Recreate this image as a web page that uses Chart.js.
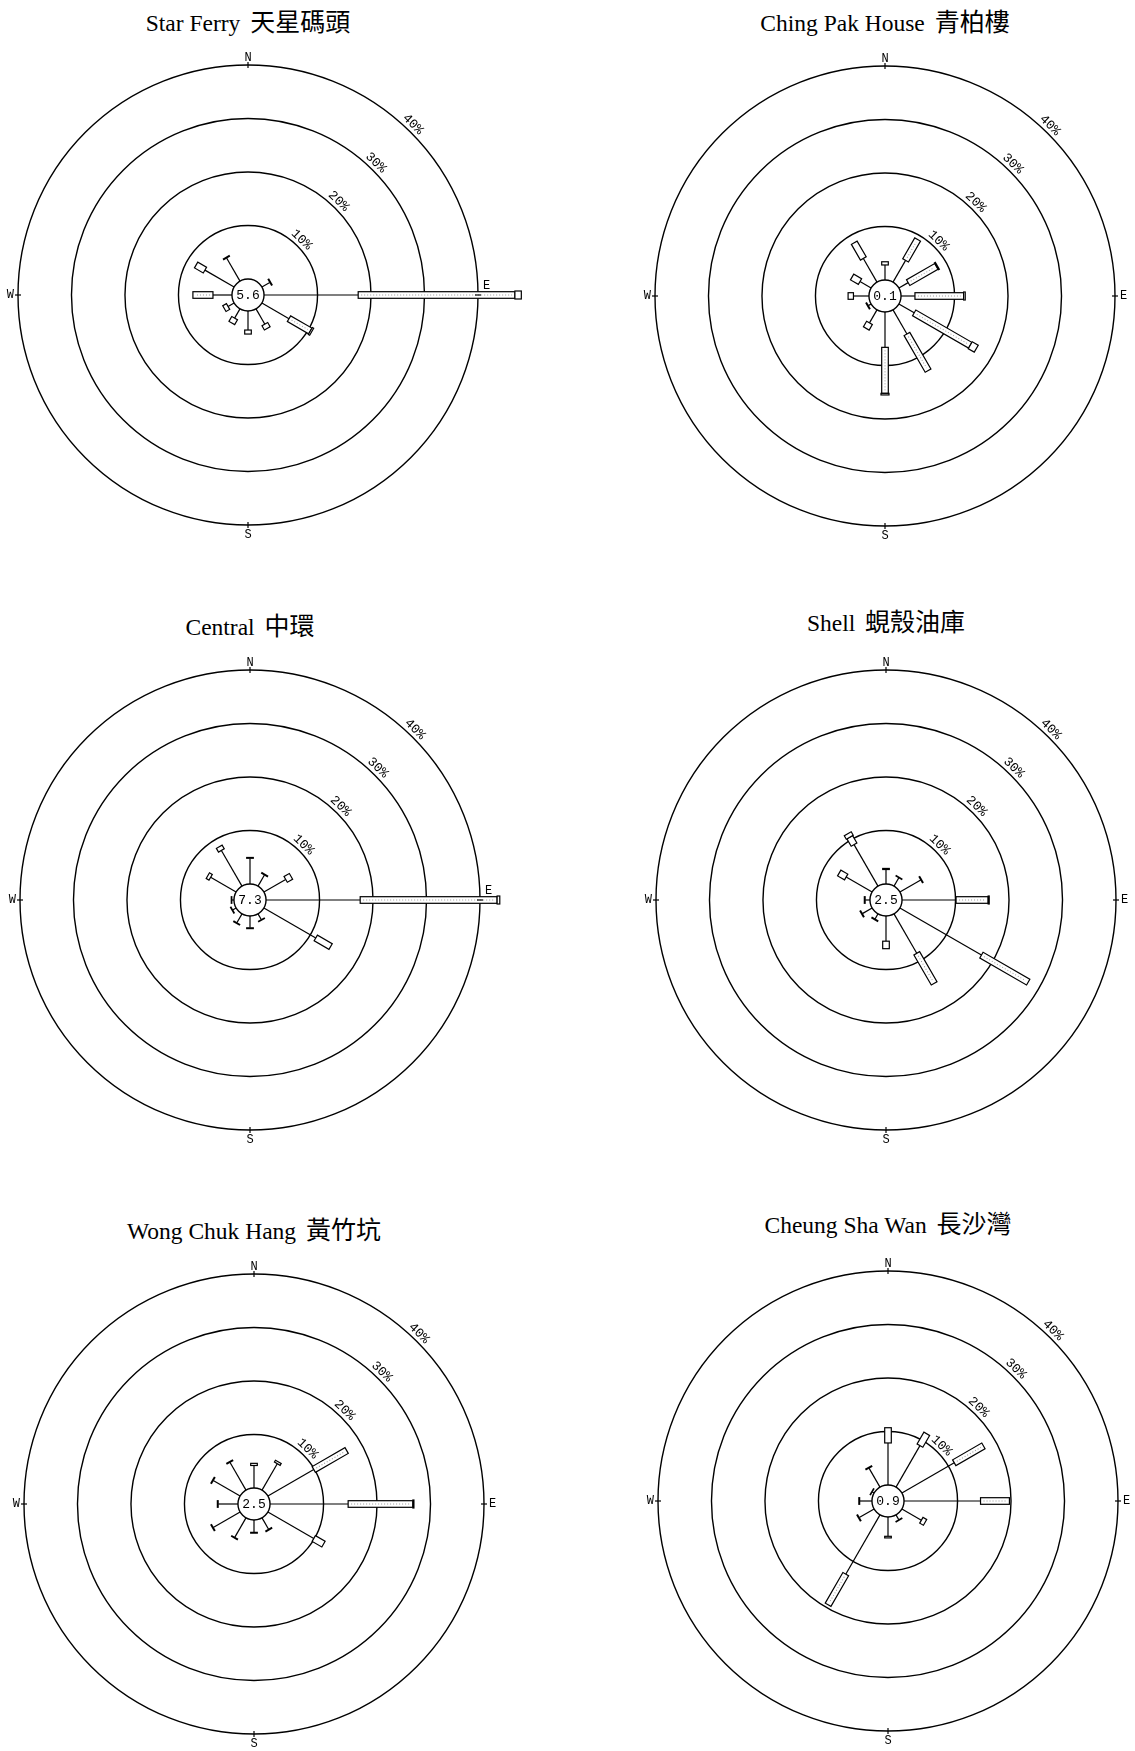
<!DOCTYPE html>
<html>
<head>
<meta charset="utf-8">
<title>Wind roses</title>
<script src="https://cdn.jsdelivr.net/npm/chart.js@4.4.1/dist/chart.umd.min.js"></script>
<style>
    html, body { margin: 0; padding: 0; background: #fff; }
    body { position: relative; width: 1135px; height: 1751px; overflow: hidden; }
    .title {
        position: absolute;
        width: 500px;
        text-align: center;
        font-family: "Liberation Serif", "Times New Roman", serif;
        font-size: 23.5px;
        line-height: 30px;
        color: #000;
        white-space: nowrap;
    }
    .title .zh {
        font-family: "Noto Sans CJK TC", "Noto Sans CJK SC", sans-serif;
        font-size: 25px;
        margin-left: 4px;
    }
    canvas { position: absolute; }
</style>
</head>
<body>
<script>
// ==============================
// Data
// ==============================

// 12 sectors of 30 degrees, clockwise from north
const directions = ["N", "030", "060", "E", "120", "150", "S", "210", "240", "W", "300", "330"];

// frequency rings (%), 0 is the calm circle
const gridValues = [0, 10, 20, 30, 40];

const titlesEn = ["Star Ferry", "Ching Pak House", "Central", "Shell", "Wong Chuk Hang", "Cheung Sha Wan"];
const titlesZh = ["天星碼頭", "青柏樓", "中環", "蜆殼油庫", "黃竹坑", "長沙灣"];

// calm (%)
const calmValues = ["5.6", "0.1", "7.3", "2.5", "2.5", "0.9"];

// % of time per direction, by wind speed class (low = line, mid = thin bar, high = wide bar)
const starFerryLow  = [0, 0, 1.7, 17.6, 5.85, 3.3, 3.55, 2.0, 1.3, 3.55, 6.3, 5.0];
const starFerryMid  = [0, 0, 0.15, 29.3, 4.6, 0.9, 0.75, 1.05, 0.8, 3.75, 1.9, 0.15];
const starFerryHigh = [0, 0, 0, 1.2, 0.3, 0, 0, 0, 0, 0, 0, 0];

const chingPakLow  = [2.8, 4.7, 2.0, 2.6, 3.3, 5.2, 6.6, 2.8, 0.6, 2.9, 2.4, 5.1];
const chingPakMid  = [0.6, 4.5, 6.1, 9.1, 12.1, 7.9, 8.6, 1.2, 0.15, 1.0, 1.7, 3.4];
const chingPakHigh = [0, 0, 0.2, 0.3, 1.3, 0, 0.3, 0, 0, 0, 0, 0];

const centralLow  = [4.8, 2.4, 4.7, 17.6, 11.2, 1.25, 2.2, 1.9, 0.75, 0.4, 5.5, 7.7];
const centralMid  = [0.15, 0.15, 1.15, 25.6, 3.2, 0.1, 0.15, 0.15, 0.1, 0.1, 0.6, 0.8];
const centralHigh = [0, 0, 0, 0.5, 0, 0, 0, 0, 0, 0, 0, 0];

const shellLow  = [2.7, 1.8, 4.5, 10.1, 17.6, 8.5, 4.7, 1.1, 2.1, 0.9, 5.6, 8.95];
const shellMid  = [0.2, 0.1, 0.15, 6.0, 10.1, 6.5, 1.4, 0.15, 0.15, 0.15, 1.5, 1.6];
const shellHigh = [0, 0, 0, 0.2, 0, 0, 0, 0, 0, 0, 0, 0.75];

const wongChukHangLow  = [4.2, 5.7, 9.9, 14.6, 9.9, 2.45, 2.3, 4.2, 5.8, 3.7, 5.8, 6.0];
const wongChukHangMid  = [0.4, 0.4, 7.1, 12.1, 2.1, 0.15, 0.15, 0.15, 0.15, 0.15, 0.15, 0.15];
const wongChukHangHigh = [0, 0, 0, 0.2, 0, 0, 0, 0, 0, 0, 0, 0];

const cheungShaWanLow  = [7.85, 8.95, 11.3, 14.3, 4.2, 1.05, 3.6, 12.8, 3.2, 2.3, 0.4, 4.1];
const cheungShaWanMid  = [2.85, 2.55, 6.3, 5.4, 0.8, 0.1, 0.3, 6.6, 0.15, 0.15, 0.1, 0.15];
const cheungShaWanHigh = [0, 0, 0, 0, 0, 0, 0, 0, 0, 0, 0, 0];

const stationSeries = [
    [starFerryLow, starFerryMid, starFerryHigh],
    [chingPakLow, chingPakMid, chingPakHigh],
    [centralLow, centralMid, centralHigh],
    [shellLow, shellMid, shellHigh],
    [wongChukHangLow, wongChukHangMid, wongChukHangHigh],
    [cheungShaWanLow, cheungShaWanMid, cheungShaWanHigh]
];

// ==============================
// Layout
// ==============================

const roseCenters = [[248, 295], [885, 296], [250, 900], [886, 900], [254, 1504], [888, 1501]];
const titleTops = [5, 5, 609, 605, 1213, 1207];
const CANVAS_SIZE = 560;
const PAD = 50;
const MONO = "Liberation Mono, DejaVu Sans Mono, monospace";

// ==============================
// Wind rose plugin
// ==============================

const windRosePlugin = {
    id: "windRose",
    afterDatasetsDraw(chart) {

        const scale = chart.scales.r;
        const ctx = chart.ctx;
        const sets = chart.data.datasets.map(d => d.data);
        const xc = scale.xCenter;
        const yc = scale.yCenter;
        const R = scale.drawingArea;

        ctx.save();
        ctx.strokeStyle = "#000";
        ctx.fillStyle = "#000";

        // ---------- spokes ----------
        for (let i = 0; i < directions.length; i++) {

            const a = sets[0][i], b = sets[1][i], c = sets[2][i];
            if (a + b + c <= 0) continue;

            const d0 = scale.getDistanceFromCenterForValue(0);
            const d1 = scale.getDistanceFromCenterForValue(a);
            const d2 = scale.getDistanceFromCenterForValue(a + b);
            const d3 = scale.getDistanceFromCenterForValue(a + b + c);

            ctx.save();
            ctx.translate(xc, yc);
            ctx.rotate(scale.getIndexAngle(i) - Math.PI / 2);
            ctx.lineWidth = 1.2;

            if (a > 0) {
                ctx.beginPath();
                ctx.moveTo(d0, 0);
                ctx.lineTo(d1, 0);
                ctx.stroke();
            }

            if (b > 0) {
                ctx.fillStyle = "#fff";
                ctx.fillRect(d1, -3.3, d2 - d1, 6.6);
                ctx.strokeRect(d1, -3.3, d2 - d1, 6.6);
                if (d2 - d1 > 20) {
                    ctx.save();
                    ctx.strokeStyle = "#999";
                    ctx.lineWidth = 1;
                    ctx.setLineDash([1, 2]);
                    ctx.beginPath();
                    ctx.moveTo(d1 + 3, 0);
                    ctx.lineTo(d2 - 3, 0);
                    ctx.stroke();
                    ctx.restore();
                }
            }

            if (c > 0) {
                ctx.fillStyle = "#fff";
                ctx.fillRect(d2, -4, d3 - d2, 8);
                ctx.strokeRect(d2, -4, d3 - d2, 8);
            }

            ctx.restore();
        }

        // ---------- calm value ----------
        ctx.font = "13px " + MONO;
        ctx.textAlign = "center";
        ctx.textBaseline = "middle";
        ctx.fillText(chart.options.plugins.windRose.calm, xc, yc + 1);

        // ---------- ring labels ----------
        ctx.font = "13px " + MONO;
        ctx.textBaseline = "alphabetic";
        gridValues.forEach(v => {
            if (v <= 0) return;
            const r = scale.getDistanceFromCenterForValue(v);
            ctx.save();
            ctx.translate(xc, yc);
            ctx.rotate(44 * Math.PI / 180);
            ctx.fillText(v + "%", 0, -(r + 4));
            ctx.restore();
        });

        // ---------- compass ticks and letters ----------
        ctx.font = "12px " + MONO;
        ctx.lineWidth = 1.2;
        [0, 3, 6, 9].forEach(i => {
            const inner = scale.getPointPosition(i, R - 3);
            const outer = scale.getPointPosition(i, R + 3);
            ctx.beginPath();
            ctx.moveTo(inner.x, inner.y);
            ctx.lineTo(outer.x, outer.y);
            ctx.stroke();

            const total = sets[0][i] + sets[1][i] + sets[2][i];
            const label = directions[i];
            if (i === 0) {
                const p = scale.getPointPosition(i, R + 1);
                ctx.textAlign = "center";
                ctx.textBaseline = "bottom";
                ctx.fillText(label, p.x, p.y);
            } else if (i === 3) {
                const p = scale.getPointPosition(i, R + 5);
                ctx.textAlign = "left";
                if (total > 38) {
                    ctx.textBaseline = "bottom";
                    ctx.fillText(label, p.x, p.y - 3);
                } else {
                    ctx.textBaseline = "middle";
                    ctx.fillText(label, p.x, p.y);
                }
            } else if (i === 6) {
                const p = scale.getPointPosition(i, R + 4);
                ctx.textAlign = "center";
                ctx.textBaseline = "top";
                ctx.fillText(label, p.x, p.y);
            } else {
                const p = scale.getPointPosition(i, R + 4);
                ctx.textAlign = "right";
                ctx.textBaseline = "middle";
                ctx.fillText(label, p.x, p.y);
            }
        });

        ctx.restore();
    }
};

// ==============================
// Build charts
// ==============================

function buildRose(k) {

    const [cx, cy] = roseCenters[k];

    const title = document.createElement("div");
    title.className = "title";
    title.style.left = (cx - 250) + "px";
    title.style.top = titleTops[k] + "px";
    title.innerHTML = titlesEn[k] + " <span class=\"zh\">" + titlesZh[k] + "</span>";
    document.body.appendChild(title);

    const canvas = document.createElement("canvas");
    canvas.width = CANVAS_SIZE;
    canvas.height = CANVAS_SIZE;
    canvas.style.left = (cx - CANVAS_SIZE / 2) + "px";
    canvas.style.top = (cy - CANVAS_SIZE / 2) + "px";
    document.body.appendChild(canvas);

    const series = stationSeries[k];
    const hidden = {
        borderWidth: 0,
        pointRadius: 0,
        pointHoverRadius: 0,
        showLine: false,
        fill: false
    };

    new Chart(canvas, {
        type: "radar",
        data: {
            labels: directions,
            datasets: [
                Object.assign({ label: "low", data: series[0] }, hidden),
                Object.assign({ label: "mid", data: series[1] }, hidden),
                Object.assign({ label: "high", data: series[2] }, hidden)
            ]
        },
        options: {
            responsive: false,
            animation: false,
            events: [],
            layout: { padding: PAD },
            plugins: {
                legend: { display: false },
                tooltip: { enabled: false },
                windRose: { calm: calmValues[k] }
            },
            scales: {
                r: {
                    min: -3,
                    max: 40,
                    bounds: "data",
                    startAngle: 0,
                    afterBuildTicks: axis => {
                        axis.ticks = [{ value: -3 }].concat(gridValues.map(v => ({ value: v })));
                    },
                    ticks: { display: false },
                    grid: { circular: true, color: "#000", lineWidth: 1.4 },
                    angleLines: { display: false },
                    pointLabels: { display: false }
                }
            }
        },
        plugins: [windRosePlugin]
    });
}

for (let k = 0; k < titlesEn.length; k++) {
    buildRose(k);
}
</script>
</body>
</html>
